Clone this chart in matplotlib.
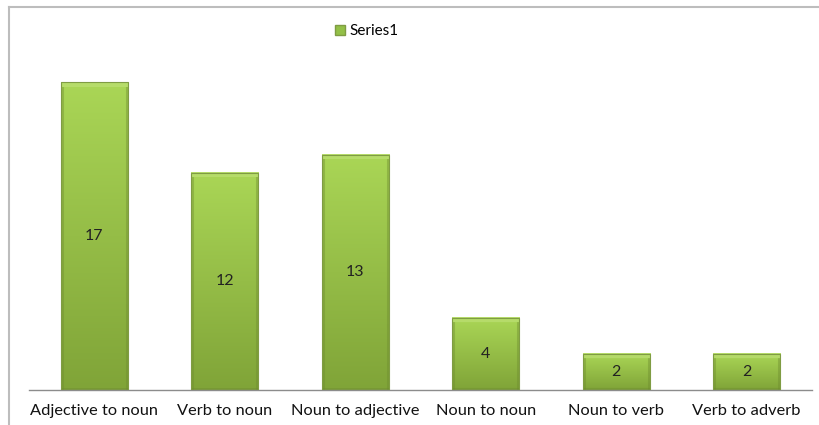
"""Bar chart of part-of-speech conversion counts."""
import matplotlib
matplotlib.use("Agg")
import matplotlib.pyplot as plt
from matplotlib.patches import Rectangle
import numpy as np

categories = ["Adjective to noun", "Verb to noun", "Noun to adjective",
              "Noun to noun", "Noun to verb", "Verb to adverb"]
counts = [17, 12, 13, 4, 2, 2]
series_name = "Series1"

plt.rcParams["font.family"] = ["Lato", "DejaVu Sans"]

TOP = np.array([170, 214, 86]) / 255.0
BOTTOM = np.array([128, 164, 56]) / 255.0
HILITE = np.array([196, 228, 128]) / 255.0
SHADE = np.array([108, 138, 46]) / 255.0


def bevel_image(w_px, h_px):
    """RGB array for one bevelled bar, w_px by h_px pixels."""
    w_px, h_px = max(int(round(w_px)), 2), max(int(round(h_px)), 2)
    t = np.linspace(0, 1, h_px)[:, None, None]
    img = TOP * (1 - t) + BOTTOM * t
    img = np.repeat(img, w_px, axis=1)
    yy, xx = np.mgrid[0:h_px, 0:w_px]
    edge = 3
    top_band = yy < 5
    img[top_band] = img[top_band] * 0.5 + HILITE * 0.5
    sides = (xx < edge) | (xx >= w_px - edge)
    img[sides & ~top_band] = img[sides & ~top_band] * 0.6 + SHADE * 0.4
    img[yy >= h_px - 2] = img[yy >= h_px - 2] * 0.6 + SHADE * 0.4
    return img


fig = plt.figure(figsize=(8.2, 4.25), dpi=100)
ax = fig.add_axes([29 / 820, 35 / 425, 783 / 820, 326 / 425])

x = np.arange(len(categories))
bars = ax.bar(x, counts, width=0.515, color="none", edgecolor="none")
ax.set_xlim(-0.5, len(categories) - 0.5)
ax.set_ylim(0, 18)

fig.canvas.draw()
for rect, val in zip(bars, counts):
    x0, w, h = rect.get_x(), rect.get_width(), rect.get_height()
    p0 = ax.transData.transform((x0, 0))
    p1 = ax.transData.transform((x0 + w, h))
    img = bevel_image(p1[0] - p0[0], p1[1] - p0[1])
    ax.imshow(img, extent=(x0, x0 + w, 0, h), aspect="auto",
              interpolation="bilinear", zorder=2)
    ax.add_patch(Rectangle((x0, 0), w, h, fill=False,
                           edgecolor="#7f9c43", linewidth=0.8, zorder=3))
    ax.text(x0 + w / 2, h / 2, str(val), ha="center", va="center",
            fontsize=11.5, color="#222222", zorder=4)

ax.set_xticks(x)
ax.set_xticklabels(categories, fontsize=11.8, color="#111111")
ax.tick_params(axis="x", length=0, pad=10)
ax.set_yticks([])
for side in ("top", "right", "left"):
    ax.spines[side].set_visible(False)
ax.spines["bottom"].set_color("#8c8c8c")
ax.spines["bottom"].set_linewidth(1.0)

# legend entry
leg_handle = Rectangle((0, 0), 1, 1, facecolor="#93c047", edgecolor="#7f9c43")
fig.legend([leg_handle], [series_name], loc="center",
           bbox_to_anchor=(367 / 820, 1 - 31 / 425), frameon=False,
           fontsize=11, handlelength=0.65, handleheight=0.65,
           handletextpad=0.3)

# outer chart border (left and top edges)
fig.add_artist(plt.Line2D([9.5 / 820, 9.5 / 820], [0, 1 - 6.5 / 425],
                          transform=fig.transFigure, color="#bdbdbd", lw=1.5))
fig.add_artist(plt.Line2D([9.5 / 820, 1], [1 - 6.5 / 425, 1 - 6.5 / 425],
                          transform=fig.transFigure, color="#bdbdbd", lw=1.5))

fig.savefig("out.png", dpi=100)
